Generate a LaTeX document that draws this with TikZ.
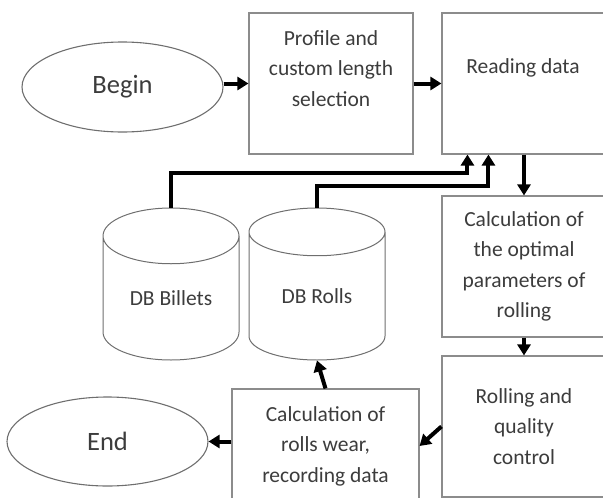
\documentclass[tikz,border=0pt]{standalone}
\usepackage{fontspec}
\setmainfont{Carlito}
\usetikzlibrary{shapes.geometric,arrows.meta}

\definecolor{framegray}{RGB}{140,140,140}
\definecolor{linegray}{RGB}{110,110,110}
\definecolor{textgray}{RGB}{60,60,60}

\tikzset{
    box/.style={draw=framegray, line width=1.1pt, rectangle, inner sep=0pt},
    oval/.style={draw=linegray, line width=1.1pt, ellipse, inner sep=0pt,
        text=textgray, font=\fontsize{26.5}{32}\selectfont},
    dbase/.style={draw=linegray, line width=1pt, cylinder, shape border rotate=90,
        aspect=0.676, inner sep=0pt, minimum width=136pt, minimum height=152pt,
        anchor=shape center},
    txt/.style={text=textgray, align=center, font=\fontsize{21.5}{30.5}\selectfont},
    flow/.style={line width=4pt, -{Triangle[length=11pt,width=13pt]}},
}

\begin{document}
\begin{tikzpicture}[x=1pt, y=-1pt]
    \clip (0,0) rectangle (603,498);

    % start and end
    \node[oval, minimum width=201pt, minimum height=90pt] (begin) at (122.5,87) {Begin};
    \node[oval, minimum width=201pt, minimum height=89pt] (end) at (107.5,441.5) {End};

    % process boxes
    \node[box, minimum width=164pt, minimum height=141pt] (prof) at (331,83.5) {};
    \node[txt] (proflbl) at (331,68.5) {Profile and\\custom length\\selection};
    \node[box, minimum width=164pt, minimum height=141pt] (read) at (524,83.5) {};
    \node[txt] (readlbl) at (523,68) {Reading data};
    \node[box, txt, minimum width=164pt, minimum height=141pt] (calc) at (524,266.5)
        {Calculation of\\the optimal\\parameters of\\rolling};
    \node[box, txt, minimum width=164pt, minimum height=141pt] (roll) at (524,426.5)
        {Rolling and\\quality\\control};
    \node[box, txt, minimum width=187pt, minimum height=114pt] (wear) at (325.5,446)
        {Calculation of\\rolls wear,\\recording data};

    % databases
    \node[dbase, txt] (billets) at (171,284) {DB Billets};
    \node[dbase, txt] (rolls) at (317,284) {DB Rolls};

    % arrows
    \draw[flow] (begin.east |- prof.west) -- (prof.west);
    \draw[flow] (prof.east) -- (read.west);
    \draw[flow] (billets.north) -- ++(0,-35) -| ([xshift=26pt]read.south west);
    \draw[flow] (rolls.north) -- ++(0,-22) -| ([xshift=47pt]read.south west);
    \draw[flow] (read.south) -- (calc.north);
    \draw[flow] (calc.south) -- (roll.north);
    \draw[flow] (roll.west) -- (wear.east);
    \draw[flow] (wear.north) -- (rolls.south);
    \draw[flow] (wear.west |- end.east) -- (end.east);
\end{tikzpicture}
\end{document}
